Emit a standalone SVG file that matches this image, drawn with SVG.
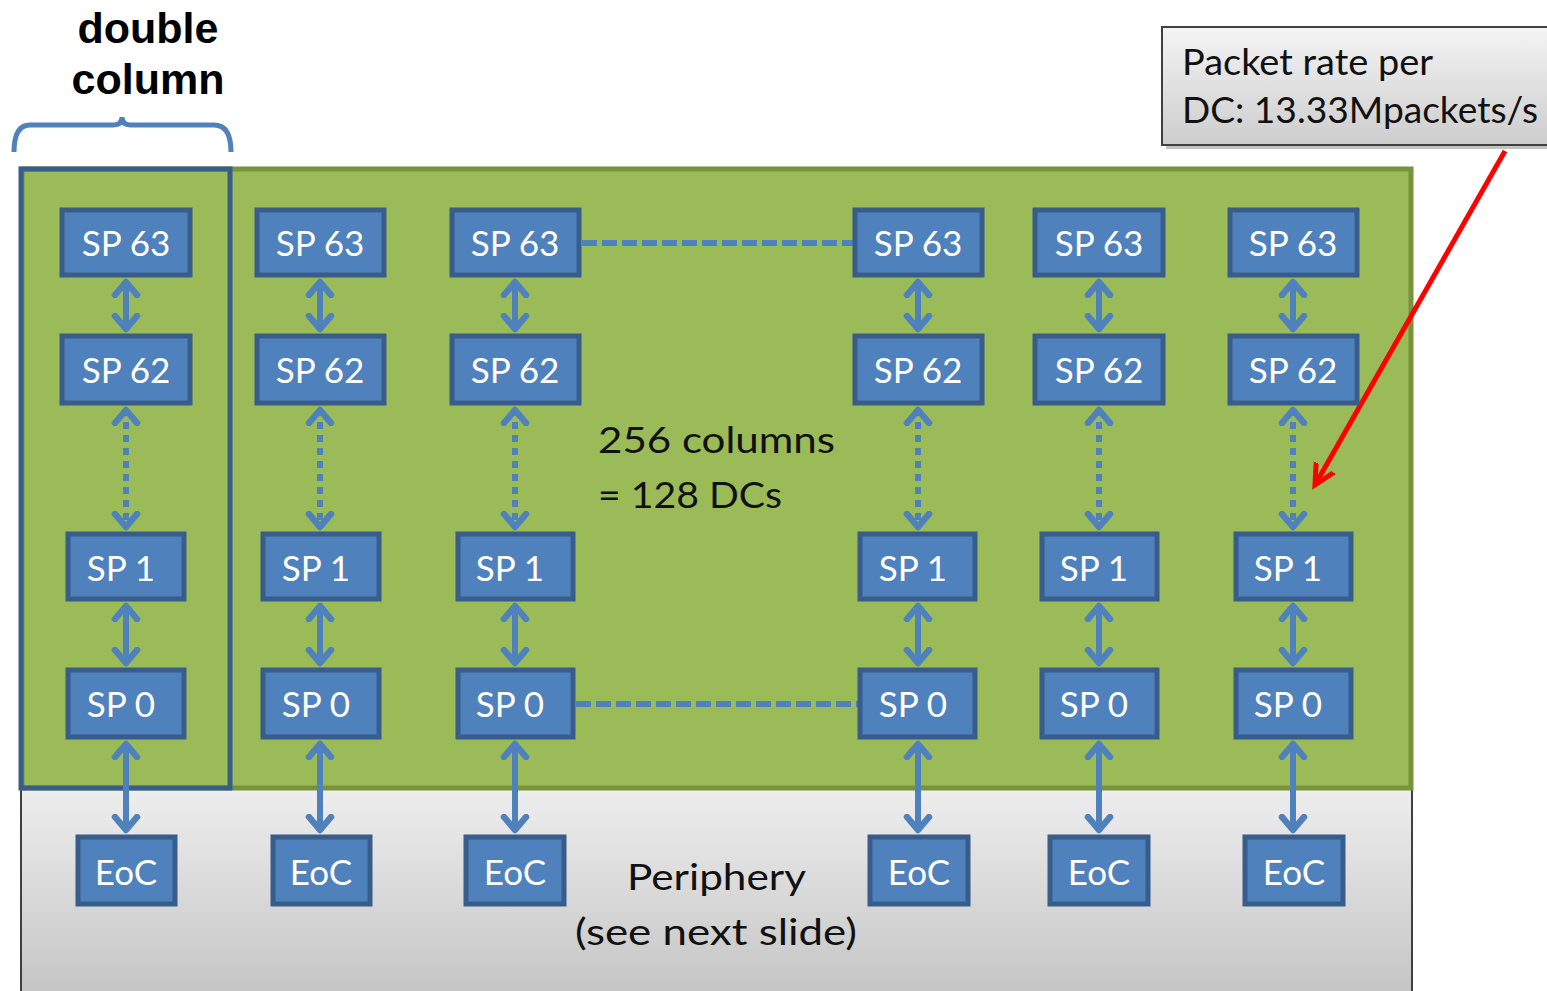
<svg xmlns="http://www.w3.org/2000/svg" width="1547" height="991" viewBox="0 0 1547 991">
<defs>
<linearGradient id="gPer" x1="0" y1="0" x2="0" y2="1"><stop offset="0" stop-color="#eeeeee"/><stop offset="1" stop-color="#c4c4c4"/></linearGradient>
<linearGradient id="gCall" x1="0" y1="0" x2="0" y2="1"><stop offset="0" stop-color="#f4f4f4"/><stop offset="1" stop-color="#cdcdcd"/></linearGradient>
<marker id="chev" markerUnits="userSpaceOnUse" markerWidth="34" markerHeight="34" viewBox="-17 -17 34 34" refX="0" refY="0" orient="auto-start-reverse">
<path d="M -14 -11 L -1 0 L -14 11" fill="none" stroke="#4f81bd" stroke-width="6.5" stroke-linecap="round" stroke-linejoin="round"/>
</marker>
<marker id="redhead" markerUnits="userSpaceOnUse" markerWidth="40" markerHeight="40" viewBox="-20 -20 40 40" refX="0" refY="0" orient="auto">
<path d="M -24 -12 L 0 0 L -24 12" fill="none" stroke="#ff0000" stroke-width="5" stroke-linecap="round" stroke-linejoin="miter"/>
</marker>
</defs>
<style>
.box{fill:#4f81bd;stroke:#385d8a;stroke-width:5}
.lbl{font-family:Lato,"Liberation Sans",sans-serif;font-size:35px;fill:#ffffff;text-anchor:middle}
.ar{stroke:#4f81bd;stroke-width:6;fill:none;marker-start:url(#chev);marker-end:url(#chev)}
.dot{stroke:#4f81bd;stroke-width:6;fill:none;stroke-dasharray:7 6;marker-start:url(#chev);marker-end:url(#chev)}
.dash{stroke:#4f81bd;stroke-width:6;fill:none;stroke-dasharray:15 5}
.txt{font-family:Lato,"Liberation Sans",sans-serif;font-size:36px;fill:#111111}
</style>
<rect width="1547" height="991" fill="#ffffff"/>
<g id="periphery">
<rect x="21" y="788" width="1391" height="210" fill="url(#gPer)" stroke="#404040" stroke-width="2"/>
</g>
<g id="array">
<rect x="22" y="169" width="1389" height="619" fill="#9bbb59" stroke="#77933c" stroke-width="5"/>
</g>
<g id="double-column">
<rect x="21" y="169" width="209" height="619" fill="none" stroke="#385d8a" stroke-width="5"/>
<path d="M 14 152 Q 14 125 30 125 L 113 125 Q 122 125 122 117 Q 122 125 131 125 L 214 125 Q 231 125 231 152" fill="none" stroke="#4f81bd" stroke-width="5"/>
<text x="148" y="43" font-family="Liberation Sans,Arial,sans-serif" font-weight="bold" font-size="43" text-anchor="middle" fill="#000000">double</text>
<text x="148" y="94" font-family="Liberation Sans,Arial,sans-serif" font-weight="bold" font-size="43" text-anchor="middle" fill="#000000">column</text>
</g>
<g id="connectors">
<path class="ar" d="M 126 281 V 330"/>
<path class="dot" d="M 126 409 V 528"/>
<path class="ar" d="M 126 605 V 664"/>
<path class="ar" d="M 126 743 V 831"/>
<path class="ar" d="M 320 281 V 330"/>
<path class="dot" d="M 320 409 V 528"/>
<path class="ar" d="M 320 605 V 664"/>
<path class="ar" d="M 320 743 V 831"/>
<path class="ar" d="M 515 281 V 330"/>
<path class="dot" d="M 515 409 V 528"/>
<path class="ar" d="M 515 605 V 664"/>
<path class="ar" d="M 515 743 V 831"/>
<path class="ar" d="M 918 281 V 330"/>
<path class="dot" d="M 918 409 V 528"/>
<path class="ar" d="M 918 605 V 664"/>
<path class="ar" d="M 918 743 V 831"/>
<path class="ar" d="M 1099 281 V 330"/>
<path class="dot" d="M 1099 409 V 528"/>
<path class="ar" d="M 1099 605 V 664"/>
<path class="ar" d="M 1099 743 V 831"/>
<path class="ar" d="M 1293 281 V 330"/>
<path class="dot" d="M 1293 409 V 528"/>
<path class="ar" d="M 1293 605 V 664"/>
<path class="ar" d="M 1293 743 V 831"/>
<path class="dash" d="M 582 243 H 853"/>
<path class="dash" d="M 576 704 H 858"/>
<path d="M 1505 151 L 1315 485" stroke="#ff0000" stroke-width="5" fill="none" marker-end="url(#redhead)"/>
</g>
<g id="col1">
<rect class="box" x="62" y="210" width="128" height="65"/><text class="lbl" x="126" y="256">SP 63</text>
<rect class="box" x="62" y="336" width="128" height="67"/><text class="lbl" x="126" y="383">SP 62</text>
<rect class="box" x="68" y="534" width="116" height="65"/><text class="lbl" x="121" y="581">SP 1</text>
<rect class="box" x="68" y="670" width="116" height="67"/><text class="lbl" x="121" y="717">SP 0</text>
<rect class="box" x="78" y="837" width="97" height="67"/><text class="lbl" x="126" y="885">EoC</text>
</g>
<g id="col2">
<rect class="box" x="257" y="210" width="127" height="65"/><text class="lbl" x="320" y="256">SP 63</text>
<rect class="box" x="257" y="336" width="127" height="67"/><text class="lbl" x="320" y="383">SP 62</text>
<rect class="box" x="263" y="534" width="116" height="65"/><text class="lbl" x="316" y="581">SP 1</text>
<rect class="box" x="263" y="670" width="116" height="67"/><text class="lbl" x="316" y="717">SP 0</text>
<rect class="box" x="273" y="837" width="97" height="67"/><text class="lbl" x="321" y="885">EoC</text>
</g>
<g id="col3">
<rect class="box" x="452" y="210" width="127" height="65"/><text class="lbl" x="515" y="256">SP 63</text>
<rect class="box" x="452" y="336" width="127" height="67"/><text class="lbl" x="515" y="383">SP 62</text>
<rect class="box" x="458" y="534" width="115" height="65"/><text class="lbl" x="510" y="581">SP 1</text>
<rect class="box" x="458" y="670" width="115" height="67"/><text class="lbl" x="510" y="717">SP 0</text>
<rect class="box" x="466" y="837" width="98" height="67"/><text class="lbl" x="515" y="885">EoC</text>
</g>
<g id="col4">
<rect class="box" x="855" y="210" width="127" height="65"/><text class="lbl" x="918" y="256">SP 63</text>
<rect class="box" x="855" y="336" width="127" height="67"/><text class="lbl" x="918" y="383">SP 62</text>
<rect class="box" x="860" y="534" width="115" height="65"/><text class="lbl" x="913" y="581">SP 1</text>
<rect class="box" x="860" y="670" width="115" height="67"/><text class="lbl" x="913" y="717">SP 0</text>
<rect class="box" x="870" y="837" width="98" height="67"/><text class="lbl" x="919" y="885">EoC</text>
</g>
<g id="col5">
<rect class="box" x="1035" y="210" width="128" height="65"/><text class="lbl" x="1099" y="256">SP 63</text>
<rect class="box" x="1035" y="336" width="128" height="67"/><text class="lbl" x="1099" y="383">SP 62</text>
<rect class="box" x="1042" y="534" width="115" height="65"/><text class="lbl" x="1094" y="581">SP 1</text>
<rect class="box" x="1042" y="670" width="115" height="67"/><text class="lbl" x="1094" y="717">SP 0</text>
<rect class="box" x="1050" y="837" width="98" height="67"/><text class="lbl" x="1099" y="885">EoC</text>
</g>
<g id="col6">
<rect class="box" x="1230" y="210" width="127" height="65"/><text class="lbl" x="1293" y="256">SP 63</text>
<rect class="box" x="1230" y="336" width="127" height="67"/><text class="lbl" x="1293" y="383">SP 62</text>
<rect class="box" x="1236" y="534" width="115" height="65"/><text class="lbl" x="1288" y="581">SP 1</text>
<rect class="box" x="1236" y="670" width="115" height="67"/><text class="lbl" x="1288" y="717">SP 0</text>
<rect class="box" x="1245" y="837" width="98" height="67"/><text class="lbl" x="1294" y="885">EoC</text>
</g>
<g id="labels">
<text class="txt" x="598" y="453" textLength="237" lengthAdjust="spacingAndGlyphs">256 columns</text>
<text class="txt" x="598" y="508" textLength="184" lengthAdjust="spacingAndGlyphs">= 128 DCs</text>
<text class="txt" x="627" y="890" textLength="179" lengthAdjust="spacingAndGlyphs">Periphery</text>
<text class="txt" x="575" y="945" textLength="282" lengthAdjust="spacingAndGlyphs">(see next slide)</text>
</g>
<g id="callout">
<rect x="1166" y="31" width="390" height="118" fill="#9a9a9a" opacity="0.6"/>
<rect x="1162" y="27" width="390" height="118" fill="url(#gCall)" stroke="#404040" stroke-width="2"/>
<text class="txt" x="1182" y="75" textLength="251" lengthAdjust="spacingAndGlyphs">Packet rate per</text>
<text class="txt" x="1182" y="123" textLength="356" lengthAdjust="spacingAndGlyphs">DC: 13.33Mpackets/s</text>
</g>
</svg>
